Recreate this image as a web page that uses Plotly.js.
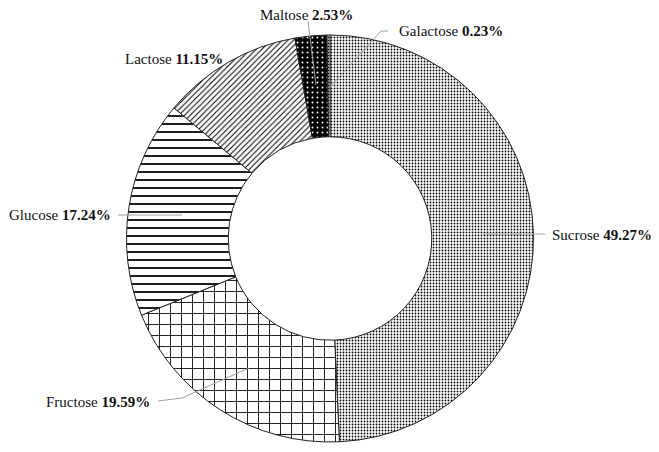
<!DOCTYPE html>
<html>
<head>
<meta charset="utf-8">
<script src="https://cdn.plot.ly/plotly-3.0.1.min.js"></script>
<style>html,body{margin:0;padding:0;background:#fff;}#chart{width:659px;height:452px;}</style>
</head>
<body>
<div id="chart"></div>
<script>
// Data
var sugars = ["Sucrose", "Fructose", "Glucose", "Lactose", "Maltose", "Galactose"];
var shares = [49.27, 19.59, 17.24, 11.15, 2.53, 0.23];
var shareLabels = ["49.27%", "19.59%", "17.24%", "11.15%", "2.53%", "0.23%"];

// Styles
var patternShapes = [".", "+", "-", "/", ".", "."];
var patternBg = ["#ffffff", "#ffffff", "#ffffff", "#ffffff", "#000000", "#ffffff"];
var patternFg = ["#000000", "#000000", "#000000", "#000000", "#ffffff", "#000000"];
var patternSize = [3, 11, 8, 4, 5, 3];
var patternSolidity = [0.28, 0.15, 0.22, 0.25, 0.12, 0.28];

var W = 659, H = 452;
function px(x){ return x / W; }
function py(y){ return 1 - y / H; }

var cx = 330, cy = 238.5, R = 203.5;

var trace = {
  type: "pie",
  labels: sugars,
  values: shares,
  sort: false,
  direction: "clockwise",
  rotation: 0,
  hole: 0.5,
  textinfo: "none",
  hoverinfo: "label+percent",
  domain: {x: [px(cx - R), px(cx + R)], y: [py(cy + R), py(cy - R)]},
  marker: {
    colors: patternBg,
    line: {color: "#222222", width: 1},
    pattern: {
      shape: patternShapes,
      bgcolor: patternBg,
      fgcolor: patternFg,
      size: patternSize,
      solidity: patternSolidity,
      fillmode: "replace"
    }
  }
};

// label placement (positions only)
var labelPos = [
  {x: 550, y: 235, anchor: "left"},   // Sucrose
  {x: 152, y: 402, anchor: "right"},  // Fructose
  {x: 113, y: 215, anchor: "right"},  // Glucose
  {x: 225, y: 59, anchor: "right"},   // Lactose
  {x: 355, y: 15, anchor: "right"},   // Maltose
  {x: 397, y: 31, anchor: "left"}     // Galactose
];

var annotations = sugars.map(function(s, i){
  return {
    xref: "paper", yref: "paper",
    x: px(labelPos[i].x), y: py(labelPos[i].y),
    xanchor: labelPos[i].anchor, yanchor: "middle",
    text: s + " <b>" + shareLabels[i] + "</b>",
    showarrow: false,
    font: {family: "Liberation Serif, Times New Roman, serif", size: 15, color: "#111111"}
  };
});

function path(pts){
  return pts.map(function(p, i){ return (i ? "L" : "M") + px(p[0]) + "," + py(p[1]); }).join(" ");
}
var leader = [
  [[545, 234], [483, 234]],
  [[158, 401], [182, 398], [249, 368]],
  [[118, 215], [182, 215]],
  [[308, 21], [316, 85]],
  [[388, 31], [381, 31], [330, 87]]
];
var shapes = leader.map(function(pts){
  return {type: "path", xref: "paper", yref: "paper", path: path(pts),
          line: {color: "#a0a0a0", width: 1}};
});

var layout = {
  width: W, height: H,
  margin: {l: 0, r: 0, t: 0, b: 0},
  paper_bgcolor: "#ffffff",
  plot_bgcolor: "#ffffff",
  showlegend: false,
  annotations: annotations,
  shapes: shapes
};

Plotly.newPlot("chart", [trace], layout, {displayModeBar: false, staticPlot: true});
</script>
</body>
</html>
